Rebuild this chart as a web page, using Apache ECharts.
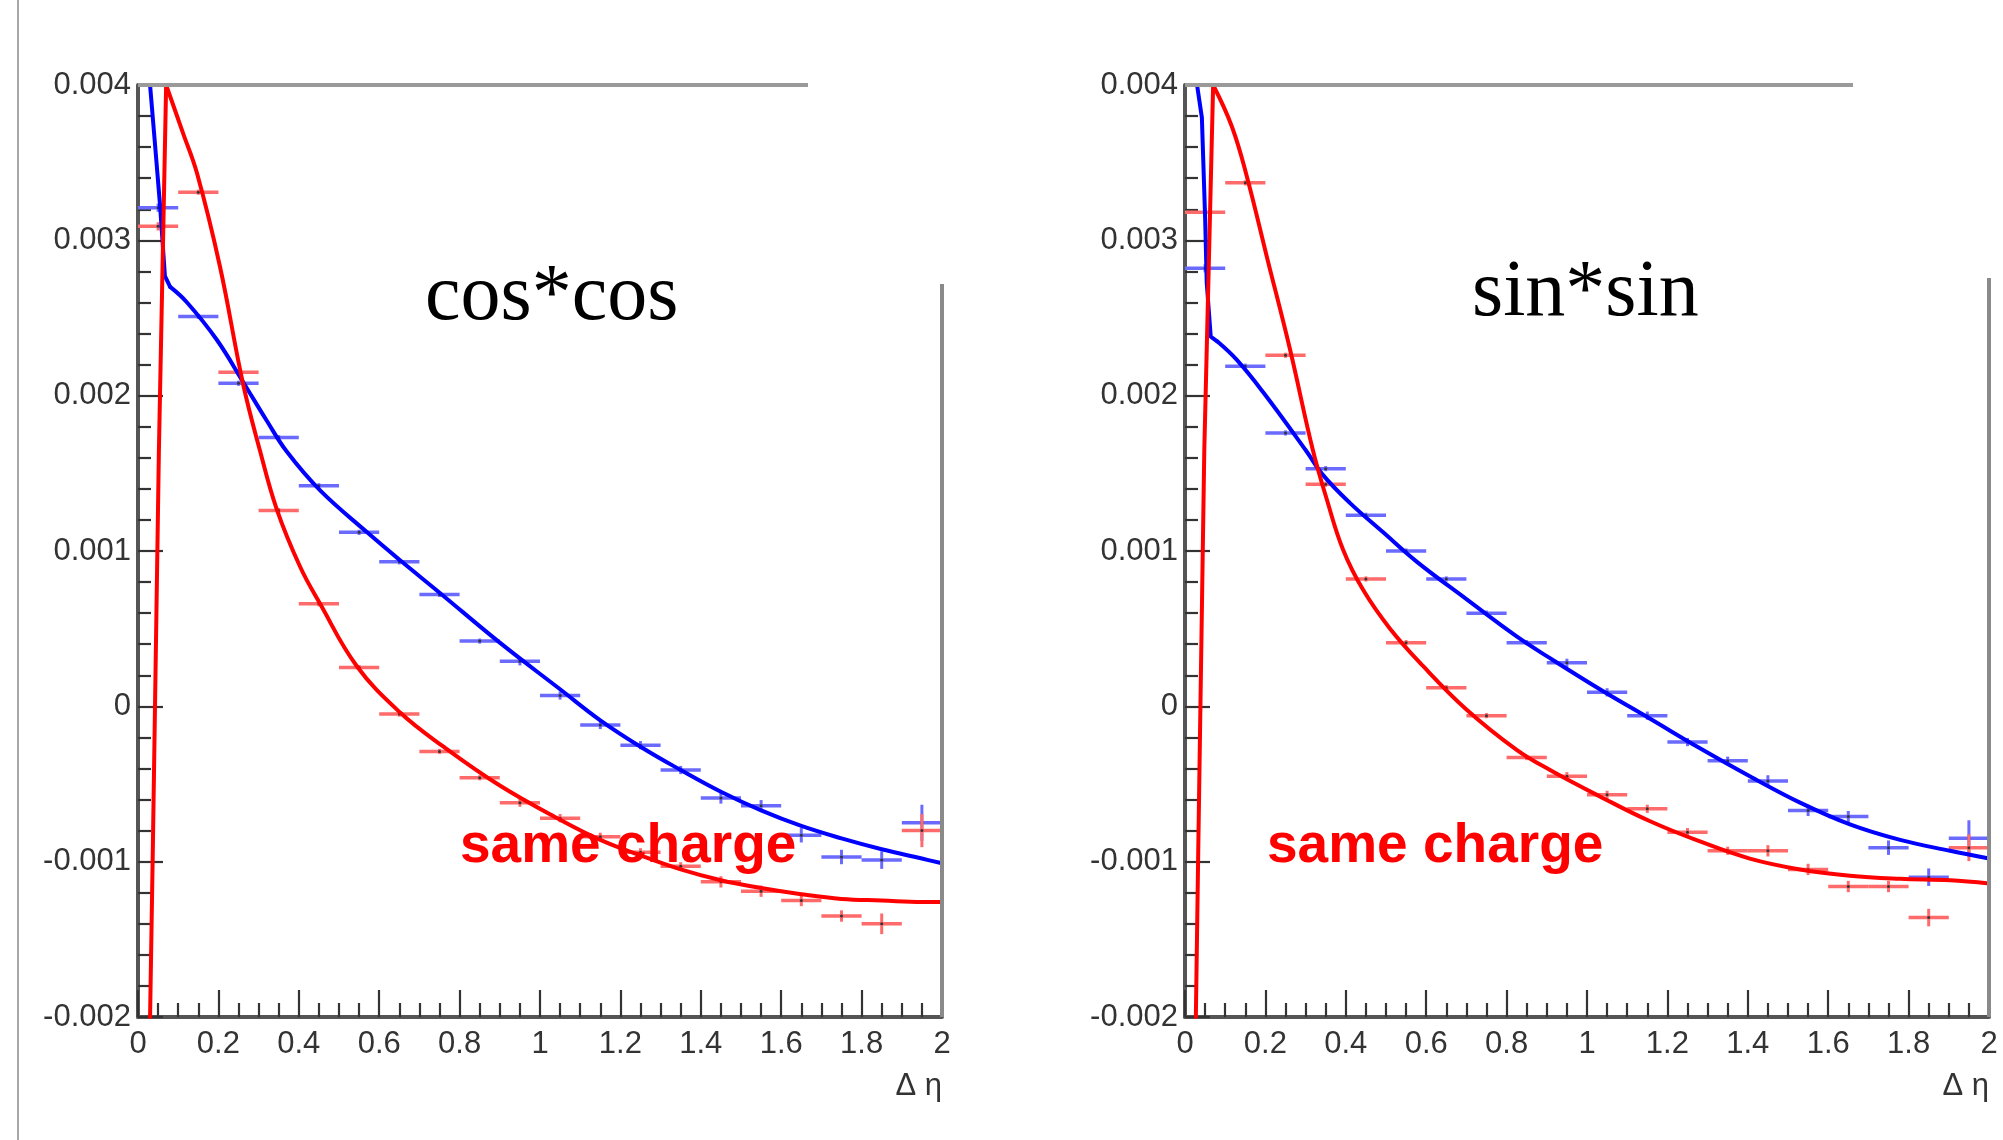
<!DOCTYPE html>
<html>
<head>
<meta charset="utf-8">
<script src="https://cdn.jsdelivr.net/npm/echarts@6/dist/echarts.min.js"></script>
<style>
  html, body { margin: 0; padding: 0; background: #fff; }
  #chart { width: 2003px; height: 1140px; }
</style>
</head>
<body>
<div id="chart"></div>
<script>
// Δη bins (width 0.1) and tick labels
const binWidth = 0.1;
const binCenters = [0.05, 0.15, 0.25, 0.35, 0.45, 0.55, 0.65, 0.75, 0.85, 0.95,
                    1.05, 1.15, 1.25, 1.35, 1.45, 1.55, 1.65, 1.75, 1.85, 1.95];
const xTickLabels = ['0', '0.2', '0.4', '0.6', '0.8', '1', '1.2', '1.4', '1.6', '1.8', '2'];
const yTickLabels = ['-0.002', '-0.001', '0', '0.001', '0.002', '0.003', '0.004'];

// cos*cos panel: binned values and errors
const cosBlue = [0.00321, 0.00251, 0.00208, 0.00173, 0.00142, 0.00112, 0.00093, 0.00072, 0.00042, 0.00029,
                 0.00007, -0.00012, -0.00025, -0.00041, -0.00059, -0.00064, -0.00083, -0.00097, -0.00099, -0.00075];
const cosBlueErr = [0.00002, 0.00001, 0.00001, 0.00001, 0.00001, 0.00001, 0.00001, 0.00001, 0.00001, 0.00002,
                    0.00002, 0.00002, 0.00002, 0.00002, 0.00003, 0.00003, 0.00004, 0.00004, 0.00005, 0.00011];
const cosRed = [0.00309, 0.00331, 0.00215, 0.00126, 0.00066, 0.00025, -0.00005, -0.00029, -0.00046, -0.00062,
                -0.00072, -0.00084, -0.00094, -0.00103, -0.00113, -0.00119, -0.00125, -0.00135, -0.00140, -0.00080];
const cosRedErr = [0.00002, 0.00001, 0.00001, 0.00001, 0.00001, 0.00001, 0.00001, 0.00001, 0.00001, 0.00002,
                   0.00002, 0.00002, 0.00002, 0.00002, 0.00003, 0.00003, 0.00003, 0.00003, 0.00006, 0.00010];

// cos*cos panel: fitted curves [Δη, value]; the knee index marks where the smooth tail starts
const cosBlueFit = [[0.03, 0.004], [0.04, 0.00369], [0.055, 0.00322], [0.067, 0.00277], [0.08, 0.0027],
                    [0.122, 0.0026], [0.196, 0.00236], [0.261, 0.00209], [0.32, 0.00184], [0.37, 0.00164],
                    [0.453, 0.00139], [0.57, 0.00112], [0.652, 0.00094], [0.751, 0.00073], [0.90, 0.00041],
                    [1.05, 0.00011], [1.15, -0.00009], [1.25, -0.00026], [1.35, -0.00041], [1.45, -0.00055],
                    [1.55, -0.00067], [1.65, -0.00077], [1.75, -0.00085], [1.85, -0.00092], [1.95, -0.00098], [2.0, -0.00101]];
const cosBlueKnee = 4;
const cosRedFit = [[0.03, -0.002], [0.037, -0.0009], [0.052, 0.00165], [0.07, 0.004], [0.112, 0.00369],
                   [0.147, 0.00343], [0.204, 0.00283], [0.261, 0.00208], [0.303, 0.00165], [0.345, 0.00127],
                   [0.403, 0.0009], [0.453, 0.00066], [0.544, 0.00026], [0.652, -0.00004], [0.76, -0.00026],
                   [0.90, -0.00051], [1.05, -0.00073], [1.15, -0.00086], [1.25, -0.00096], [1.35, -0.00105],
                   [1.45, -0.00112], [1.55, -0.00117], [1.65, -0.00121], [1.75, -0.00124], [1.85, -0.00125],
                   [1.95, -0.00126], [2.0, -0.00126]];
const cosRedKnee = 3;

// sin*sin panel: binned values and errors
const sinBlue = [0.00282, 0.00219, 0.00176, 0.00153, 0.00123, 0.00100, 0.00082, 0.00060, 0.00041, 0.00028,
                 0.00009, -0.00006, -0.00023, -0.00035, -0.00048, -0.00067, -0.00071, -0.00091, -0.00110, -0.00085];
const sinBlueErr = [0.00002, 0.00001, 0.00001, 0.00001, 0.00001, 0.00001, 0.00001, 0.00001, 0.00001, 0.00002,
                    0.00002, 0.00002, 0.00002, 0.00002, 0.00003, 0.00003, 0.00003, 0.00004, 0.00005, 0.00011];
const sinRed = [0.00318, 0.00337, 0.00226, 0.00143, 0.00082, 0.00041, 0.00012, -0.00006, -0.00033, -0.00045,
                -0.00057, -0.00066, -0.00081, -0.00093, -0.00093, -0.00105, -0.00116, -0.00116, -0.00136, -0.00091];
const sinRedErr = [0.00002, 0.00001, 0.00001, 0.00001, 0.00001, 0.00001, 0.00001, 0.00001, 0.00001, 0.00002,
                   0.00002, 0.00002, 0.00002, 0.00002, 0.00003, 0.00003, 0.00003, 0.00003, 0.00005, 0.00008];

// sin*sin panel: fitted curves [Δη, value]
const sinBlueFit = [[0.03, 0.004], [0.042, 0.00379], [0.05, 0.00315], [0.054, 0.00273], [0.064, 0.00238],
                    [0.08, 0.00235], [0.129, 0.00223], [0.195, 0.00202], [0.30, 0.00165], [0.343, 0.00149],
                    [0.41, 0.00131], [0.493, 0.00112], [0.577, 0.00093], [0.70, 0.00069], [0.825, 0.00045],
                    [0.908, 0.00031], [1.032, 0.00011], [1.157, -0.00008], [1.281, -0.00027], [1.405, -0.00045],
                    [1.53, -0.00062], [1.654, -0.00076], [1.779, -0.00086], [1.903, -0.00093], [2.0, -0.00098]];
const sinBlueKnee = 5;
const sinRedFit = [[0.027, -0.002], [0.033, -0.00092], [0.048, 0.00165], [0.07, 0.004], [0.117, 0.00373],
                   [0.154, 0.00341], [0.204, 0.00289], [0.261, 0.0023], [0.318, 0.00165], [0.353, 0.00133],
                   [0.393, 0.00101], [0.443, 0.00075], [0.51, 0.0005], [0.592, 0.00026], [0.70, -0.00002],
                   [0.825, -0.00028], [0.908, -0.00041], [1.032, -0.00058], [1.157, -0.00074], [1.281, -0.00087],
                   [1.405, -0.00098], [1.53, -0.00105], [1.654, -0.00109], [1.779, -0.00111], [1.903, -0.00112],
                   [2.0, -0.00114]];
const sinRedKnee = 3;

// layout of the two frames
const panels = [
  { left: 138, top: 85, width: 804, height: 932, label: 'cos*cos', labelX: 425, labelY: 338, chargeX: 460, topEnd: 808, rightStart: 284 },
  { left: 1185, top: 85, width: 804, height: 932, label: 'sin*sin', labelX: 1472, labelY: 334, chargeX: 1267, topEnd: 1853, rightStart: 278 }
];

const RED = '#ff0000', BLUE = '#0000ff';
const RED_BAR = '#ff6a6a', BLUE_BAR = '#6a6aff';
const labelFont = '"Liberation Sans", Arial, Helvetica, sans-serif';

function toPoints(vals, errs) {
  return binCenters.map((c, i) => [c, vals[i], errs[i]]);
}

function errorBars(barColor) {
  return function (params, api) {
    const x = api.value(0), y = api.value(1), e = api.value(2);
    const a = api.coord([x - binWidth / 2, y]);
    const b = api.coord([x + binWidth / 2, y]);
    const lo = api.coord([x, y - e]);
    const hi = api.coord([x, y + e]);
    const c = api.coord([x, y]);
    return {
      type: 'group',
      children: [
        { type: 'line', shape: { x1: a[0], y1: a[1], x2: b[0], y2: b[1] }, style: { stroke: barColor, lineWidth: 3.5 } },
        { type: 'line', shape: { x1: lo[0], y1: lo[1] + 1, x2: hi[0], y2: hi[1] - 1 }, style: { stroke: barColor, lineWidth: 3 } },
        { type: 'circle', shape: { cx: c[0], cy: c[1], r: 1.5 }, style: { fill: '#333' } }
      ]
    };
  };
}

const grids = [], xAxes = [], yAxes = [], series = [], graphics = [];

panels.forEach((p, k) => {
  grids.push({ left: p.left, top: p.top, width: p.width, height: p.height, containLabel: false });
  xAxes.push({
    type: 'value', gridIndex: k, min: 0, max: 2, interval: 0.2,
    axisLine: { show: true, onZero: false, lineStyle: { color: '#555', width: 4 } },
    axisTick: { show: true, inside: true, length: 27, lineStyle: { color: '#333', width: 2.2 } },
    minorTick: { show: true, splitNumber: 4, length: 14, lineStyle: { color: '#333', width: 2.2 } },
    splitLine: { show: false },
    axisLabel: {
      margin: 12, color: '#333', fontSize: 31, fontFamily: labelFont,
      formatter: v => xTickLabels[Math.round(v / 0.2)]
    }
  });
  yAxes.push({
    type: 'value', gridIndex: k, min: -0.002, max: 0.004, interval: 0.001,
    axisLine: { show: true, onZero: false, lineStyle: { color: '#555', width: 4 } },
    axisTick: { show: true, inside: true, length: 25, lineStyle: { color: '#333', width: 2.2 } },
    minorTick: { show: true, splitNumber: 5, length: 13, lineStyle: { color: '#333', width: 2.2 } },
    splitLine: { show: false },
    axisLabel: {
      margin: 7, color: '#333', fontSize: 31, fontFamily: labelFont,
      formatter: v => yTickLabels[Math.round(v / 0.001) + 2]
    }
  });

  // partial frame: top edge and right edge
  graphics.push({
    type: 'line', z: 50,
    shape: { x1: p.left, y1: p.top, x2: p.topEnd, y2: p.top },
    style: { stroke: '#9a9a9a', lineWidth: 4 }
  });
  graphics.push({
    type: 'line', z: 50,
    shape: { x1: p.left + p.width, y1: p.rightStart, x2: p.left + p.width, y2: p.top + p.height },
    style: { stroke: '#8a8a8a', lineWidth: 4 }
  });
  graphics.push({
    type: 'text', z: 60, x: p.labelX, y: p.labelY,
    style: { text: p.label, font: '80px "Liberation Serif", "Times New Roman", serif', fill: '#000', textAlign: 'left', textVerticalAlign: 'bottom' }
  });
  graphics.push({
    type: 'text', z: 60, x: p.chargeX, y: 874,
    style: { text: 'same charge', font: 'bold 55px ' + labelFont, fill: RED, textAlign: 'left', textVerticalAlign: 'bottom' }
  });
  graphics.push({
    type: 'text', z: 60, x: p.left + p.width, y: 1102,
    style: { text: 'Δ η', font: '31px ' + labelFont, fill: '#333', textAlign: 'right', textVerticalAlign: 'bottom' }
  });
});

// thin separator at the far left
graphics.push({
  type: 'line', z: 50,
  shape: { x1: 18, y1: 0, x2: 18, y2: 1140 },
  style: { stroke: '#a8a8a8', lineWidth: 2 }
});

const panelData = [
  { blue: toPoints(cosBlue, cosBlueErr), red: toPoints(cosRed, cosRedErr),
    blueFit: cosBlueFit, blueKnee: cosBlueKnee, redFit: cosRedFit, redKnee: cosRedKnee },
  { blue: toPoints(sinBlue, sinBlueErr), red: toPoints(sinRed, sinRedErr),
    blueFit: sinBlueFit, blueKnee: sinBlueKnee, redFit: sinRedFit, redKnee: sinRedKnee }
];

// a fitted curve: sharp rise up to the knee, smooth tail after it
function fitSeries(k, pts, knee, color, z) {
  const base = { type: 'line', xAxisIndex: k, yAxisIndex: k, z: z, showSymbol: false, symbol: 'none', clip: true,
                 lineStyle: { color: color, width: 4, cap: 'round', join: 'round' } };
  return [
    Object.assign({}, base, { data: pts.slice(0, knee + 1), smooth: false }),
    Object.assign({}, base, { data: pts.slice(knee), smooth: 0.4 })
  ];
}

panelData.forEach((d, k) => {
  series.push({
    type: 'custom', xAxisIndex: k, yAxisIndex: k, z: 2,
    renderItem: errorBars(BLUE_BAR), data: d.blue, encode: { x: 0, y: 1 }
  });
  series.push({
    type: 'custom', xAxisIndex: k, yAxisIndex: k, z: 2,
    renderItem: errorBars(RED_BAR), data: d.red, encode: { x: 0, y: 1 }
  });
  series.push(...fitSeries(k, d.blueFit, d.blueKnee, BLUE, 3));
  series.push(...fitSeries(k, d.redFit, d.redKnee, RED, 4));
});

const chart = echarts.init(document.getElementById('chart'), null, { renderer: 'canvas' });
chart.setOption({
  backgroundColor: '#ffffff',
  animation: false,
  grid: grids,
  xAxis: xAxes,
  yAxis: yAxes,
  series: series,
  graphic: graphics
});
</script>
</body>
</html>
